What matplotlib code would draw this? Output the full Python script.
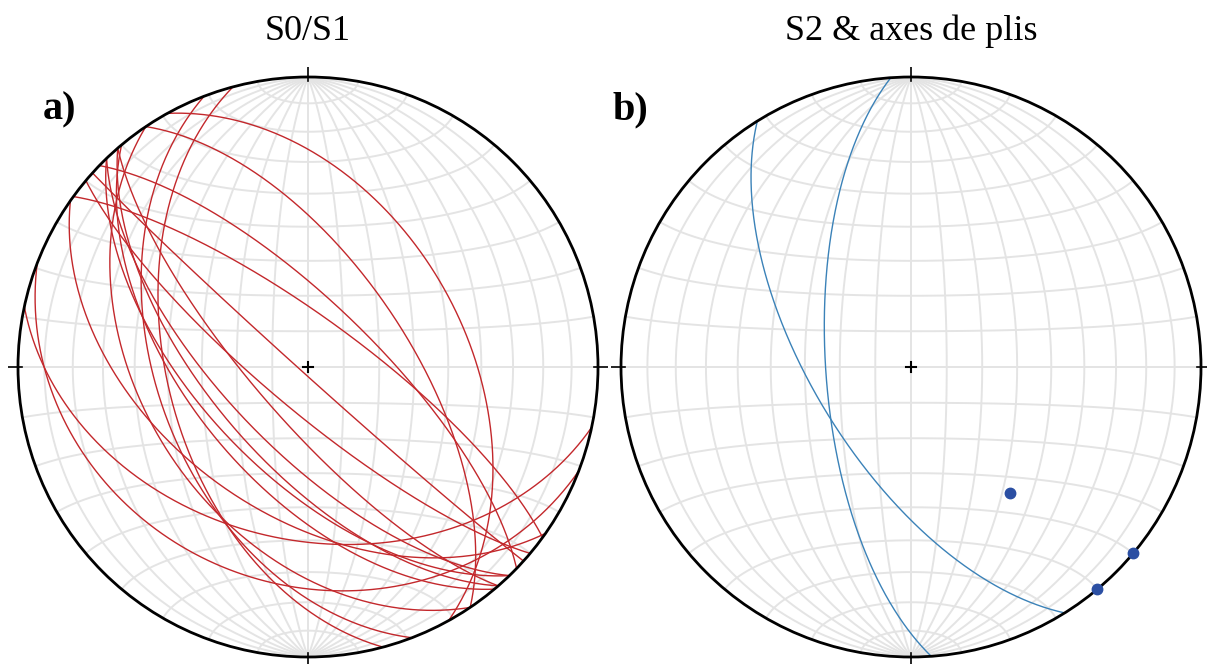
import numpy as np
import matplotlib.pyplot as plt
from matplotlib.patches import Circle

# S0/S1 planes, strike (right hand rule) and dip in degrees
s0_strike = [331, 326, 314, 306, 132, 130, 139, 136, 139, 136, 140, 125, 146, 159, 165, 102, 111]
s0_dip = [45, 62, 72, 76, 88, 78, 75, 67, 63, 60, 57, 48, 43, 47, 50, 40, 26]

# S2 planes
s2_strike = [176, 148]
s2_dip = [66, 63]

# fold axes, trend / plunge
axis_trend = [142, 130, 140]
axis_plunge = [44, 0, 0]

titles = ["S0/S1", "S2 & axes de plis"]
labels = ["a)", "b)"]

grid_col = "#e4e4e4"
red = "#c3282c"
blue = "#3b82b8"
dot = "#2b4fa3"


# equal area (Schmidt), lower hemisphere; vectors are (east, north, up)
def project(e, n, u):
    k = 1 / np.sqrt(1 - u)
    return e * k, n * k


def plane(strike, dip):
    s = np.radians(strike)
    d = np.radians(dip)
    t = np.linspace(0, np.pi, 400)
    sv = np.array([np.sin(s), np.cos(s), 0.0])
    dv = np.array([np.cos(s) * np.cos(d), -np.sin(s) * np.cos(d), -np.sin(d)])
    v = np.outer(np.cos(t), sv) + np.outer(np.sin(t), dv)
    return project(v[:, 0], v[:, 1], v[:, 2])


def small_circle(a):
    a = np.radians(a)
    phi = np.linspace(np.pi, 2 * np.pi, 400)
    return project(np.sin(a) * np.cos(phi), np.full_like(phi, np.cos(a)), np.sin(a) * np.sin(phi))


def line(trend, plunge):
    t = np.radians(trend)
    p = np.radians(plunge)
    return project(np.sin(t) * np.cos(p), np.cos(t) * np.cos(p), -np.sin(p))


def net(ax):
    # meridians
    for d in range(10, 90, 10):
        for s in (0, 180):
            x, y = plane(s, d)
            ax.plot(x, y, color=grid_col, lw=1.4, zorder=1)
    ax.plot([0, 0], [-1, 1], color=grid_col, lw=1.4, zorder=1)
    # small circles around N-S axis
    for a in range(10, 180, 10):
        x, y = small_circle(a)
        ax.plot(x, y, color=grid_col, lw=1.4, zorder=1)
    ax.add_patch(Circle((0, 0), 1, fill=False, color="black", lw=2, zorder=5))
    # N, S, E, W ticks and centre cross
    ax.plot([0, 0], [0.985, 1.035], color="black", lw=1.2, zorder=5)
    ax.plot([0, 0], [-0.985, -1.035], color="black", lw=1.2, zorder=5)
    ax.plot([0.985, 1.035], [0, 0], color="black", lw=1.2, zorder=5)
    ax.plot([-0.985, -1.035], [0, 0], color="black", lw=1.2, zorder=5)
    ax.plot([-0.018, 0.018], [0, 0], color="black", lw=1.5, zorder=5)
    ax.plot([0, 0], [-0.018, 0.018], color="black", lw=1.5, zorder=5)
    lim = 300 / 290
    ax.set_xlim(-lim, lim)
    ax.set_ylim(-lim, lim)
    ax.set_aspect("equal")
    ax.axis("off")


fig = plt.figure(figsize=(12.07, 6.64), dpi=100)
W, H = 1207, 664
centres = [308, 911]
label_x = [60, 630]
axes = []
for cx in centres:
    ax = fig.add_axes([(cx - 300) / W, (H - 367 - 300) / H, 600 / W, 600 / H])
    net(ax)
    axes.append(ax)

for s, d in zip(s0_strike, s0_dip):
    x, y = plane(s, d)
    axes[0].plot(x, y, color=red, lw=1.0, zorder=3)

for s, d in zip(s2_strike, s2_dip):
    x, y = plane(s, d)
    axes[1].plot(x, y, color=blue, lw=1.0, zorder=3)

for t, p in zip(axis_trend, axis_plunge):
    x, y = line(t, p)
    axes[1].plot(x, y, "o", color=dot, ms=7.5, zorder=6, clip_on=False)

for cx, lx, title, lab in zip(centres, label_x, titles, labels):
    fig.text(cx / W, 1 - 31 / H, title, ha="center", va="center",
             fontsize=26, family="Liberation Serif")
    fig.text(lx / W, 1 - 110 / H, lab, ha="center", va="center",
             fontsize=29, fontweight="bold", family="Liberation Serif")

fig.savefig("out.png", dpi=100)
